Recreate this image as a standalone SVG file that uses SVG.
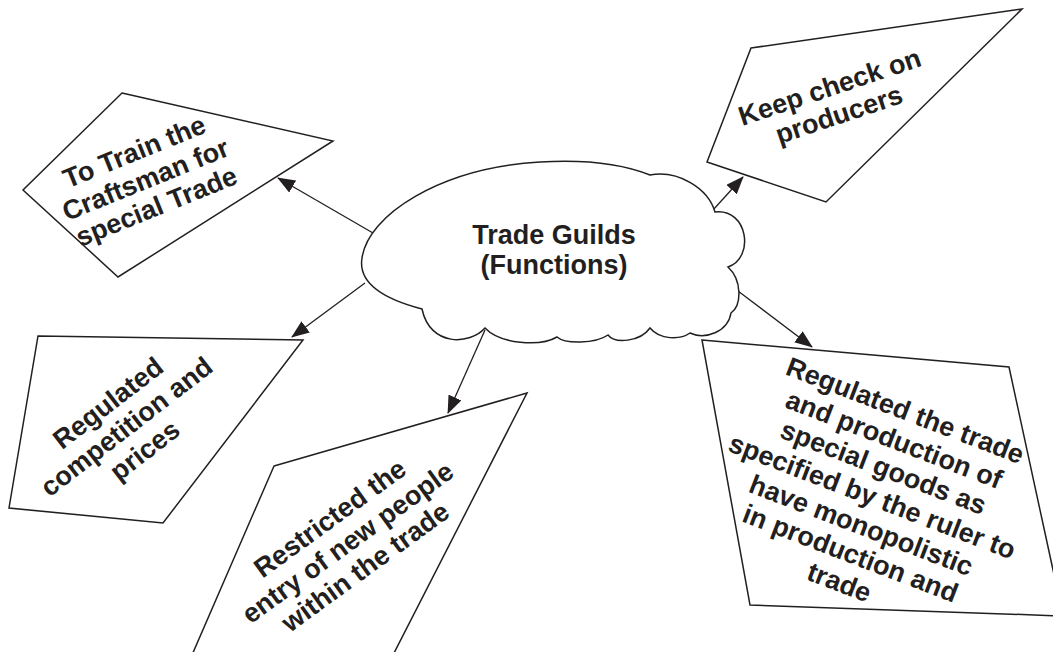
<svg xmlns="http://www.w3.org/2000/svg" width="1053" height="652" viewBox="0 0 1053 652">
<style>
.shape{fill:#ffffff;stroke:#231f20;stroke-width:1.5;stroke-linejoin:miter}
.lbl{font-family:"Liberation Sans",Arial,sans-serif;font-weight:bold;font-size:27px;fill:#231f20;text-anchor:middle}
.conn{stroke:#231f20;stroke-width:1.3;fill:none;marker-end:url(#ah)}
</style>
<defs>
<marker id="ah" markerUnits="userSpaceOnUse" markerWidth="18" markerHeight="14" refX="17" refY="7" orient="auto">
<path d="M0,0 L18,7 L0,14 Z" fill="#231f20"/>
</marker>
</defs>
<rect width="1053" height="652" fill="#ffffff"/>
<g id="connectors">
<line class="conn" x1="373" y1="233" x2="278" y2="178"/>
<line class="conn" x1="713" y1="210" x2="743" y2="177"/>
<line class="conn" x1="365" y1="283" x2="292" y2="337"/>
<line class="conn" x1="485" y1="330" x2="448" y2="413"/>
<line class="conn" x1="738" y1="291" x2="812" y2="347"/>
</g>
<g id="center">
<path class="shape" d="M 422,309 C 380,298 358,282 362,258 C 368,215 440,168 540,162 C 590,159 625,165 650,175 C 678,170 708,188 715,212 C 748,208 755,258 728,267 C 742,280 742,305 731,313 C 728,332 705,340 690,333 C 680,340 660,340 650,328 C 640,342 615,344 608,335 C 595,344 565,344 557,337 C 540,347 500,344 485,328 C 470,345 430,347 422,309 Z"/>
<text class="lbl" x="554" y="244">Trade Guilds</text>
<text class="lbl" x="554" y="274">(Functions)</text>
</g>
<g id="train">
<polygon class="shape" points="122,93 333,141 118,277 23,190"/>
<text class="lbl" transform="translate(149,188) rotate(-22)"><tspan x="0" y="-30">To Train the</tspan><tspan x="0" y="0">Craftsman for</tspan><tspan x="0" y="29">special Trade</tspan></text>
</g>
<g id="check">
<polygon class="shape" points="751,48 1022,9 826,202 707,162"/>
<text class="lbl" transform="translate(837,109) rotate(-18.5)"><tspan x="0" y="-14">Keep check on</tspan><tspan x="0" y="15">producers</tspan></text>
</g>
<g id="competition">
<polygon class="shape" points="38,336 303,340 163,523 9,508"/>
<text class="lbl" transform="translate(132,434) rotate(-37.7)"><tspan x="0" y="-30">Regulated</tspan><tspan x="0" y="0">competition and</tspan><tspan x="0" y="30">prices</tspan></text>
</g>
<g id="restricted">
<polygon class="shape" points="274,466 527,393 393,655 192,655"/>
<text class="lbl" transform="translate(353,550) rotate(-36)"><tspan x="0" y="-30">Restricted the</tspan><tspan x="0" y="0">entry of new people</tspan><tspan x="0" y="30">within the trade</tspan></text>
</g>
<g id="regulated-trade">
<polygon class="shape" points="702,340 1009,367 1063,616 750,605"/>
<text class="lbl" transform="translate(869,505) rotate(21)"><tspan x="0" y="-92">Regulated the trade</tspan><tspan x="0" y="-61">and production of</tspan><tspan x="0" y="-31">special goods as</tspan><tspan x="0" y="0">specified by the ruler to</tspan><tspan x="0" y="31">have monopolistic</tspan><tspan x="0" y="61">in production and</tspan><tspan x="0" y="92">trade</tspan></text>
</g>
</svg>
